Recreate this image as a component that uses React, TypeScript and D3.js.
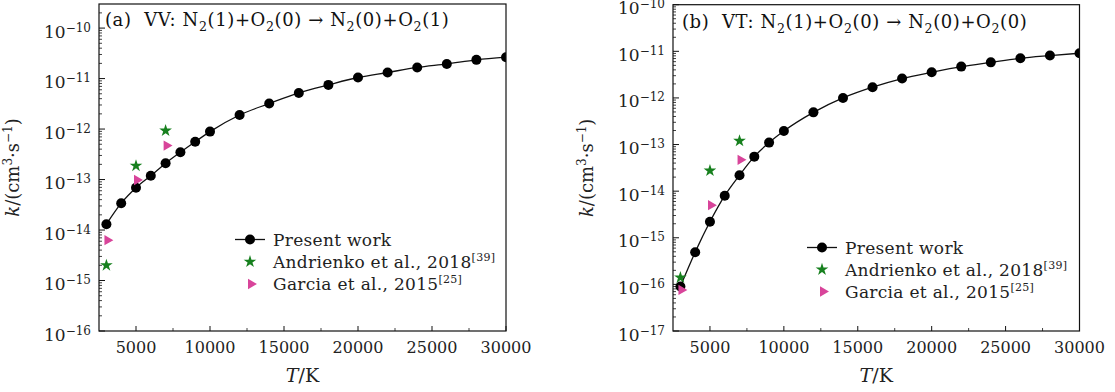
import React from 'react';
import * as d3 from 'd3';

// ---------- data ----------
const temps = [3000, 4000, 5000, 6000, 7000, 8000, 9000, 10000, 12000, 14000, 16000, 18000, 20000, 22000, 24000, 26000, 28000, 30000];
const vvPresent = [1.3e-14, 3.4e-14, 6.9e-14, 1.19e-13, 2.1e-13, 3.47e-13, 5.6e-13, 8.9e-13, 1.9e-12, 3.2e-12, 5.2e-12, 7.5e-12, 1.05e-11, 1.32e-11, 1.66e-11, 1.95e-11, 2.35e-11, 2.65e-11];
const vtPresent = [9.0e-17, 4.9e-16, 2.2e-15, 8.0e-15, 2.2e-14, 5.5e-14, 1.1e-13, 1.95e-13, 4.9e-13, 1.0e-12, 1.7e-12, 2.6e-12, 3.55e-12, 4.7e-12, 5.8e-12, 7.1e-12, 8.1e-12, 9.1e-12];
const refTemps = [3000, 5000, 7000];
const vvAndrienko = [2.0e-15, 1.87e-13, 9.3e-13];
const vvGarcia = [6.3e-15, 9.8e-14, 4.7e-13];
const vtAndrienko = [1.4e-16, 2.75e-14, 1.2e-13];
const vtGarcia = [7.6e-17, 5.0e-15, 4.7e-14];
const xTicks = [5000, 10000, 15000, 20000, 25000, 30000];
const xMinorTicks = [7500, 12500, 17500, 22500, 27500];
const vvExponents = [-16, -15, -14, -13, -12, -11, -10];
const vtExponents = [-17, -16, -15, -14, -13, -12, -11, -10];
const legendLabels = ['Present work', 'Andrienko et al., 2018', 'Garcia et al., 2015'];
const legendRefs = ['', '[39]', '[25]'];

const FONT = '"DejaVu Serif", "Liberation Serif", serif';
const GREEN = '#17801e';
const PINK = '#d8449a';

type Seg = { t: string; sub?: boolean };

function SegText({ segs, x, y, size }: { segs: Seg[]; x: number; y: number; size: number }) {
  let cur = 0;
  const subShift = Math.round(size * 0.28);
  return (
    <text x={x} y={y} fontSize={size} fontFamily={FONT} fill="#111" letterSpacing={0.6} style={{ whiteSpace: 'pre' }}>
      {segs.map((s, i) => {
        const target = s.sub ? subShift : 0;
        const dy = target - cur;
        cur = target;
        return (
          <tspan key={i} dy={dy} fontSize={s.sub ? size * 0.7 : size}>
            {s.t}
          </tspan>
        );
      })}
    </text>
  );
}

type PanelCfg = {
  left: number;
  right: number;
  top: number;
  bottom: number;
  yDomain: [number, number];
  exps: number[];
  present: number[];
  andr: number[];
  garc: number[];
  title: Seg[];
  titleX: number;
  titleY: number;
  legX: number;
  legY: number[];
  id: string;
};

function Panel({ c }: { c: PanelCfg }) {
  const x = d3.scaleLinear().domain([2500, 30000]).range([c.left, c.right]);
  const y = d3.scaleLog().domain(c.yDomain).range([c.bottom, c.top]);
  const line = d3
    .line<number>()
    .x((_, i) => x(temps[i]))
    .y((d) => y(d))
    .curve(d3.curveMonotoneX);
  const star = d3.symbol().type(d3.symbolStar).size(50)() as string;
  const tri = d3.symbol().type(d3.symbolTriangle).size(46)() as string;
  const circ = 5;

  const minor: number[] = [];
  const lo = Math.floor(Math.log10(c.yDomain[0]));
  const hi = Math.ceil(Math.log10(c.yDomain[1]));
  for (let e = lo; e <= hi; e++) {
    for (let m = 2; m <= 9; m++) {
      const v = m * Math.pow(10, e);
      if (v > c.yDomain[0] && v < c.yDomain[1]) minor.push(v);
    }
  }
  const midX = (c.left + c.right) / 2;
  const midY = (c.top + c.bottom) / 2;

  return (
    <g>
      <defs>
        <clipPath id={`clip-${c.id}`}>
          <rect x={c.left} y={c.top} width={c.right - c.left} height={c.bottom - c.top} />
        </clipPath>
      </defs>
      {/* ticks */}
      {c.exps.map((e) => (
        <line key={`ym${e}`} x1={c.left} x2={c.left + 6} y1={y(Math.pow(10, e))} y2={y(Math.pow(10, e))} stroke="#111" strokeWidth={1} />
      ))}
      {minor.map((v, i) => (
        <line key={`yn${i}`} x1={c.left} x2={c.left + 3} y1={y(v)} y2={y(v)} stroke="#111" strokeWidth={0.8} />
      ))}
      {xTicks.map((t) => (
        <line key={`xm${t}`} x1={x(t)} x2={x(t)} y1={c.bottom} y2={c.bottom - 5} stroke="#111" strokeWidth={1} />
      ))}
      {xMinorTicks.map((t) => (
        <line key={`xn${t}`} x1={x(t)} x2={x(t)} y1={c.bottom} y2={c.bottom - 3} stroke="#111" strokeWidth={0.8} />
      ))}
      {/* tick labels */}
      {c.exps.map((e) => (
        <text key={`yl${e}`} x={c.left - 8} y={y(Math.pow(10, e)) + 9.5} textAnchor="end" fontSize={17} fontFamily={FONT} fill="#222">
          10
          <tspan dy={-6} fontSize={12}>
            {'\u2212' + Math.abs(e)}
          </tspan>
        </text>
      ))}
      {xTicks.map((t) => (
        <text key={`xl${t}`} x={x(t)} y={c.bottom + 22} textAnchor="middle" fontSize={16} fontFamily={FONT} fill="#222">
          {t}
        </text>
      ))}
      {/* axis titles */}
      <text x={midX} y={c.bottom + 51} textAnchor="middle" fontSize={19} fontFamily={FONT} fill="#222">
        <tspan fontStyle="italic">T</tspan>/K
      </text>
      <text transform={`translate(${c.left - 80},${midY}) rotate(-90)`} textAnchor="middle" fontSize={18} fontFamily={FONT} fill="#222">
        <tspan fontStyle="italic">k</tspan>/(cm
        <tspan dy={-7} fontSize={12}>3</tspan>
        <tspan dy={7}>·s</tspan>
        <tspan dy={-7} fontSize={12}>{'\u22121'}</tspan>
        <tspan dy={7}>)</tspan>
      </text>
      {/* data */}
      <g clipPath={`url(#clip-${c.id})`}>
        <path d={line(c.present) as string} fill="none" stroke="#111" strokeWidth={1.3} />
        {c.present.map((v, i) => (
          <circle key={`p${i}`} cx={x(temps[i])} cy={y(v)} r={circ} fill="#000" />
        ))}
        {c.andr.map((v, i) => (
          <path key={`a${i}`} d={star} transform={`translate(${x(refTemps[i])},${y(v)})`} fill={GREEN} />
        ))}
        {c.garc.map((v, i) => (
          <path key={`g${i}`} d={tri} transform={`translate(${x(refTemps[i]) + 1},${y(v)}) rotate(90)`} fill={PINK} />
        ))}
      </g>
      {/* frame */}
      <rect x={c.left} y={c.top} width={c.right - c.left} height={c.bottom - c.top} fill="none" stroke="#111" strokeWidth={1.2} />
      {/* panel title */}
      <SegText segs={c.title} x={c.titleX} y={c.titleY} size={18} />
      {/* legend */}
      <g>
        <line x1={c.legX - 15} x2={c.legX + 15} y1={c.legY[0]} y2={c.legY[0]} stroke="#111" strokeWidth={1.3} />
        <circle cx={c.legX} cy={c.legY[0]} r={circ} fill="#000" />
        <path d={star} transform={`translate(${c.legX},${c.legY[1]})`} fill={GREEN} />
        <path d={tri} transform={`translate(${c.legX + 1},${c.legY[2]}) rotate(90)`} fill={PINK} />
        {legendLabels.map((l, i) => (
          <text key={l} x={c.legX + 23} y={c.legY[i] + 6} fontSize={17} fontFamily={FONT} fill="#222" letterSpacing={0.3}>
            {l}
            {legendRefs[i] && (
              <tspan dy={-7} fontSize={11}>
                {legendRefs[i]}
              </tspan>
            )}
          </text>
        ))}
      </g>
    </g>
  );
}

const titleA: Seg[] = [
  { t: '(a)  VV: N' }, { t: '2', sub: true }, { t: '(1)+O' }, { t: '2', sub: true }, { t: '(0) \u2192 N' }, { t: '2', sub: true }, { t: '(0)+O' }, { t: '2', sub: true }, { t: '(1)' },
];
const titleB: Seg[] = [
  { t: '(b)  VT: N' }, { t: '2', sub: true }, { t: '(1)+O' }, { t: '2', sub: true }, { t: '(0) \u2192 N' }, { t: '2', sub: true }, { t: '(0)+O' }, { t: '2', sub: true }, { t: '(0)' },
];

export default function App() {
  const a: PanelCfg = {
    id: 'a', left: 99, right: 506, top: 4, bottom: 331,
    yDomain: [1e-16, 3e-10], exps: vvExponents, present: vvPresent, andr: vvAndrienko, garc: vvGarcia,
    title: titleA, titleX: 105, titleY: 26, legX: 250, legY: [239.5, 261.7, 284],
  };
  const b: PanelCfg = {
    id: 'b', left: 673, right: 1079.5, top: 4.7, bottom: 331,
    yDomain: [1e-17, 1e-10], exps: vtExponents, present: vtPresent, andr: vtAndrienko, garc: vtGarcia,
    title: titleB, titleX: 682, titleY: 28, legX: 822, legY: [247.5, 269.5, 291.5],
  };
  return (
    <svg width={1115} height={392} style={{ position: 'absolute', left: 0, top: 0, background: '#fff' }}>
      <rect width={1115} height={392} fill="#fff" />
      <Panel c={a} />
      <Panel c={b} />
    </svg>
  );
}
